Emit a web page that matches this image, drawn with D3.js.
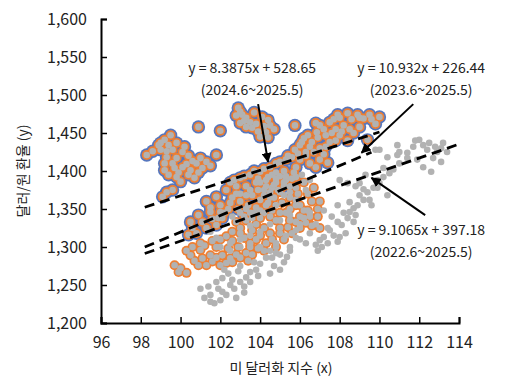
<!DOCTYPE html>
<html>
<head>
<meta charset="utf-8">
<script src="https://cdn.jsdelivr.net/npm/d3@7"></script>
<style>
  body { margin: 0; background: #fff; }
  svg text { font-family: "Noto Sans CJK KR", "Noto Sans", sans-serif; fill: #222; }
</style>
</head>
<body>
<div id="chart"></div>
<script>
// x: 미 달러화 지수, y: 달러/원 환율
// 2024.6~2025.5 (blue ring)
const period24 = [
  [98.3,1421],[98.9,1434],[99.2,1441],[99.5,1447],[99.6,1428],[99.3,1426],[100.1,1425],[100.2,1432],
  [99.3,1418],[99.8,1417],[100.9,1458],[102.0,1453],[101.8,1421],[99.2,1401],[99.7,1404],[100.1,1405],
  [100.5,1401],[101.0,1417],[101.1,1404],[100.7,1391],[100.0,1386],[100.4,1395],[100.8,1410],[99.1,1366],
  [99.6,1375],[99.0,1437],
  [99.0,1428],[99.4,1434],[99.8,1437],[100.4,1420],[100.6,1413],[99.6,1410],[99.2,1410],[100.3,1409],
  [99.9,1398],[100.9,1398],[101.3,1412],[101.5,1407],[99.4,1395],[99.8,1392],[99.3,1372],[98.6,1426],
  [102.9,1483],[103.1,1474],[103.0,1463],[103.5,1464],[103.6,1457],[104.1,1471],[104.4,1467],[104.3,1451],
  [104.0,1445],[103.3,1470],[103.8,1462],[104.2,1459],[103.0,1478],[104.5,1460],[105.75,1460],[106.8,1463],
  [102.8,1473],[103.3,1458],[103.9,1452],[104.4,1444],[104.7,1455],[103.7,1477],[103.2,1466],
  [107.9,1474],[108.4,1476],[108.9,1474],[109.5,1474],[110.0,1471],[109.2,1469],[108.6,1468],[107.5,1464],
  [107.0,1460],[106.85,1451],[106.4,1447],[106.2,1443],[106.0,1434],[105.75,1428],[105.6,1418],[108.2,1460],
  [108.0,1447],[107.5,1438],[109.4,1441],[108.7,1450],[107.4,1411],[107.2,1455],[107.8,1455],[106.6,1438],
  [107.0,1430],[106.3,1425],[107.2,1422],[108.4,1440],[109.0,1458],[107.7,1468],[108.0,1470],
  [106.1,1438],[106.5,1432],[106.9,1444],[107.3,1447],[107.6,1450],[108.1,1452],[108.5,1455],[109.0,1470],
  [109.6,1468],[109.8,1462],[106.3,1420],[106.7,1425],[107.3,1432],[107.8,1440],[105.9,1423],
  [105.0,1412],[104.5,1405],[104.0,1399],[103.5,1395],[103.0,1391],[102.5,1385],[105.4,1420],[106.0,1415],
  [106.5,1410],[105.8,1405],[105.2,1400],[104.6,1395],[106.8,1405],[107.0,1415],
  [105.3,1415],[104.8,1410],[104.2,1403],[103.7,1400],[103.2,1393],[102.7,1388],
  [102.3,1375],[102.8,1370],[103.3,1380],[103.8,1385],[104.3,1388],[104.8,1385],[105.3,1388],[105.8,1392],
  [105.5,1380],[104.9,1375],[104.2,1375],[103.6,1368],[103.0,1360],[102.5,1358],[102.9,1350],[103.4,1355],
  [104.0,1362],[104.5,1365],[102.2,1345],[103.2,1340],[103.7,1345],[101.9,1338],[101.3,1360],[101.8,1366],
  [102.0,1355],[102.6,1365],[103.3,1368],[103.9,1375],[104.6,1378],[105.2,1380],[105.7,1398],[105.0,1393],
  [104.4,1392],[103.9,1390],[102.4,1350],[103.8,1352],[104.3,1355],[101.5,1352],[102.8,1380],
  [100.5,1333],[100.9,1342],[101.5,1346],[102.0,1346],[100.4,1316],[100.8,1318],[101.3,1325],[101.8,1329],
  [102.1,1338],[100.6,1325],[101.1,1333],[101.6,1337]
];
// 2023.6~2024.5 (orange ring)
const period23 = [
  [99.7,1276],[99.9,1267],[100.3,1266],[100.5,1289],[101.0,1296],[100.9,1276],[101.3,1276],[101.8,1286],
  [102.3,1279],[102.6,1280],[103.0,1286],[101.5,1289],[102.1,1289],[100.7,1282],[101.6,1281],[102.0,1276],
  [102.8,1290],[103.3,1292],[100.3,1295],[101.2,1302],[101.8,1300],[102.4,1298],[103.5,1300],[102.0,1310],
  [102.6,1308],[103.2,1312],[103.8,1310],[104.3,1305],[104.8,1300],[105.2,1310],[105.6,1318],[106.0,1325],
  [106.3,1332],[106.5,1340],[106.2,1348],[105.8,1355],[105.3,1345],[104.8,1335],[104.2,1325],[103.6,1322],
  [103.0,1325],[102.6,1320],[104.5,1318],[105.0,1325],[105.5,1335],[106.0,1340],[104.0,1338],[104.6,1348],
  [105.1,1358],[104.4,1358],[105.5,1365],[105.0,1372],[104.3,1380],[105.8,1378],[106.2,1385],[105.6,1390],
  [104.8,1390],[103.8,1330],[103.3,1335],[102.8,1333],[106.6,1360],[106.9,1350],[106.4,1370],
  [103.5,1305],[104.0,1315],[104.6,1310],[105.0,1318],[105.4,1326],[105.8,1333],[106.4,1348],[106.0,1355],
  [105.5,1350],[105.0,1345],[104.5,1340],[104.0,1348],[103.5,1345],[103.0,1318],[102.3,1314],[101.6,1308],
  [101.0,1305],[100.6,1300],[102.9,1300],[104.7,1365],[104.2,1368],[105.2,1385],[105.9,1370],[106.7,1378],
  [106.9,1340],[107.0,1325],[106.6,1328],[100.0,1272],[101.1,1285],[102.5,1285],[103.6,1290],[103.9,1298],
  [103.4,1282],[104.2,1295],[107.0,1360]
];
// 2022.6~2023.5 (gray)
const period22 = [
  [112.0,1441],[112.2,1434],[112.5,1437],[113.2,1437],[113.1,1430],[112.9,1425],[113.1,1412],[112.7,1417],
  [112.2,1405],[111.7,1432],[111.4,1424],[111.4,1417],[110.9,1434],[110.9,1421],[110.4,1418],[110.0,1428],
  [109.8,1428],[110.5,1397],[110.2,1404],[109.9,1388],[109.7,1378],[109.4,1372],[109.5,1362],[109.6,1355],
  [109.0,1384],[110.4,1368],[108.7,1351],[108.5,1346],[108.8,1342],[108.4,1338],[108.7,1333],[108.1,1329],
  [108.0,1313],[107.9,1307],[107.5,1322],[107.4,1325],[107.2,1313],[107.0,1309],[106.8,1303],[107.1,1300],
  [107.9,1355],[108.5,1359],[109.0,1368],[110.0,1384],[112.6,1399],[111.0,1410],[109.3,1395],[108.0,1388],
  [108.4,1384],[108.8,1380],[109.2,1376],
  [109.2,1362],[109.9,1378],[110.2,1392],[110.7,1402],[111.0,1425],[111.8,1440],[112.4,1428],[112.8,1432],
  [113.4,1425],[111.9,1415],[108.3,1318],[107.6,1340],[107.2,1348],[107.4,1305],[107.7,1315],[107.9,1333],
  [108.2,1345],[108.9,1355],
  [101.8,1254],[102.1,1259],[102.5,1250],[102.1,1241],[102.3,1237],[101.2,1233],[101.7,1226],[101.5,1237],
  [102.8,1233],[103.0,1254],[103.5,1254],[103.5,1267],[103.8,1270],[104.3,1286],[105.0,1270],[105.35,1287],
  [104.6,1286],[104.0,1278],[103.3,1260],[105.5,1295],[101.0,1245],[102.7,1245],[103.2,1240],[104.7,1275],
  [103.9,1262],[102.4,1265],[102.9,1268],
  [101.4,1248],[101.9,1245],[102.6,1257],[103.2,1248],[102.0,1230],[101.5,1228],[103.0,1275],[104.5,1265],
  [105.2,1280],[103.7,1280],[104.8,1292],[102.2,1270],
  [102.0,1300],[102.5,1305],[103.0,1300],[103.5,1315],[104.0,1300],[104.5,1295],[105.0,1290],[105.5,1300],
  [106.0,1310],[106.5,1318],[105.8,1322],[106.2,1338],[106.8,1330],[104.2,1345],[104.8,1355],[103.6,1338],
  [103.0,1345],[101.5,1320],[101.8,1312],
  [104.0,1320],[104.5,1330],[105.0,1335],[105.5,1342],[106.0,1330],[106.5,1345],[103.5,1328],[103.0,1310],
  [102.5,1295],[104.8,1305],[105.3,1315],[105.8,1312],[106.3,1305],[106.9,1295],
  [104.5,1372],[105.2,1368],[105.8,1362],[106.3,1375],[104.0,1385],[103.5,1375],[104.8,1398],[103.0,1370],
  [102.6,1340],[103.3,1350],[105.3,1393],[106.1,1395],[106.5,1388],[105.5,1372],[104.7,1382]
];

// trend lines: slope, intercept, x range
const trends = [
  { slope: 8.3875, intercept: 528.65, from: 98.2, to: 110.0 },
  { slope: 10.932, intercept: 226.44, from: 98.2, to: 109.6 },
  { slope: 9.1065, intercept: 397.18, from: 98.2, to: 114.0 }
];

// annotations (data coords)
const notes = [
  { text: ['y = 8.3875x + 528.65', '(2024.6~2025.5)'], x: 103.6, y: 1529, arrow: [[103.9,1488],[104.4,1412]] },
  { text: ['y = 10.932x + 226.44', '(2023.6~2025.5)'], x: 112.1, y: 1529, arrow: [[111.7,1488],[109.1,1424]] },
  { text: ['y = 9.1065x + 397.18', '(2022.6~2025.5)'], x: 112.1, y: 1316, arrow: [[112.3,1342],[109.6,1391]] }
];

const xTicks = d3.range(96, 115, 2);
const yTicks = d3.range(1200, 1601, 50);

const W = 506, H = 387;
const svg = d3.select('#chart').append('svg').attr('width', W).attr('height', H);

const x = d3.scaleLinear().domain([96, 114]).range([101, 459]);
const y = d3.scaleLinear().domain([1200, 1600]).range([323, 19]);

svg.append('defs').append('marker')
  .attr('id', 'head').attr('viewBox', '0 0 10 10').attr('refX', 9).attr('refY', 5)
  .attr('markerWidth', 5).attr('markerHeight', 5).attr('orient', 'auto')
  .append('path').attr('d', 'M0,0 L10,5 L0,10 z').attr('fill', '#000');

// points: blue bottom, orange middle, gray top
const plot = svg.append('g');
plot.selectAll('.b').data(period24).join('circle')
  .attr('cx', d => x(d[0])).attr('cy', d => y(d[1])).attr('r', 6.7).attr('fill', '#5677BE');
plot.selectAll('.o').data(period24.concat(period23)).join('circle')
  .attr('cx', d => x(d[0])).attr('cy', d => y(d[1])).attr('r', 5).attr('fill', '#EE7F33');
plot.selectAll('.g').data(period24.concat(period23, period22)).join('circle')
  .attr('cx', d => x(d[0])).attr('cy', d => y(d[1])).attr('r', 3.3).attr('fill', '#B2B2B2');

// trend lines
svg.selectAll('.trend').data(trends).join('line')
  .attr('x1', d => x(d.from)).attr('y1', d => y(d.slope * d.from + d.intercept))
  .attr('x2', d => x(d.to)).attr('y2', d => y(d.slope * d.to + d.intercept))
  .attr('stroke', '#000').attr('stroke-width', 2.8).attr('stroke-dasharray', '10,6');

// axes
svg.append('g').attr('transform', `translate(0,${y(1200)})`)
  .call(d3.axisBottom(x).tickValues(xTicks).tickSize(-6).tickPadding(14).tickFormat(d3.format('d')))
  .call(g => g.select('.domain').attr('stroke', '#000').attr('stroke-width', 2))
  .call(g => g.selectAll('.tick line').attr('stroke', '#000').attr('stroke-width', 1.5))
  .call(g => g.selectAll('.tick text').attr('font-size', '16px').attr('fill', '#222')
    .attr('font-family', '"Noto Sans CJK KR", sans-serif'));

svg.append('g').attr('transform', `translate(${x(96)},0)`)
  .call(d3.axisLeft(y).tickValues(yTicks).tickSize(-6).tickPadding(14).tickFormat(d3.format(',')))
  .call(g => g.select('.domain').attr('stroke', '#000').attr('stroke-width', 2))
  .call(g => g.selectAll('.tick line').attr('stroke', '#000').attr('stroke-width', 1.5))
  .call(g => g.selectAll('.tick text').attr('font-size', '16px').attr('fill', '#222')
    .attr('font-family', '"Noto Sans CJK KR", sans-serif'));

// axis titles
svg.append('text').attr('x', 281).attr('y', 373).attr('text-anchor', 'middle')
  .attr('font-size', '14px').text('미 달러화 지수 (x)');
svg.append('text').attr('transform', 'translate(28,171) rotate(-90)').attr('text-anchor', 'middle')
  .attr('font-size', '14px').text('달러/원 환율 (y)');

// annotations
notes.forEach(n => {
  svg.append('line')
    .attr('x1', x(n.arrow[0][0])).attr('y1', y(n.arrow[0][1]))
    .attr('x2', x(n.arrow[1][0])).attr('y2', y(n.arrow[1][1]))
    .attr('stroke', '#000').attr('stroke-width', 2).attr('marker-end', 'url(#head)');
  n.text.forEach((t, i) => {
    svg.append('text').attr('x', x(n.x)).attr('y', y(n.y) + i * 22)
      .attr('text-anchor', 'middle').attr('font-size', '14px').text(t);
  });
});
</script>
</body>
</html>
